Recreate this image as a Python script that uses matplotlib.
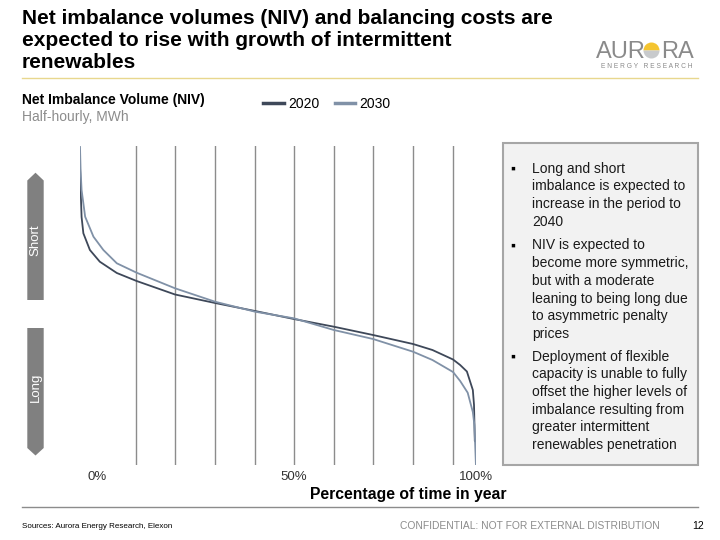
#!/usr/bin/env python3
"""Net imbalance volume duration curves, 2020 vs 2030 (Aurora style slide)."""

import matplotlib

matplotlib.use("Agg")
import matplotlib.pyplot as plt
from matplotlib.patches import Polygon, Rectangle, Wedge

plt.rcParams["font.family"] = ["Liberation Sans", "DejaVu Sans"]

W_PX, H_PX = 720, 540

# duration curves, % of time in year vs half-hourly NIV (MWh, estimated)
NIV_2020_X = [0, 0.2, 0.4, 0.85, 2.5, 5.0, 9.3, 14.3, 24.0, 34.1, 44.2, 54.0,
              64.1, 74.0, 84.1, 89.0, 94.2, 96.0, 97.7, 99.2, 99.5, 99.7, 100]
NIV_2020 = [1490, 1200, 970, 807, 640, 523, 410, 330, 195, 110, 30, -50,
            -127, -210, -300, -360, -455, -510, -575, -760, -910, -1270, -1280]

NIV_2030_X = [0, 0.15, 0.4, 1.3, 3.4, 5.9, 9.3, 14.3, 24.0, 34.1, 44.2, 54.0,
              64.1, 74.0, 84.1, 89.0, 94.2, 96.0, 97.9, 99.2, 99.6, 100]
NIV_2030 = [1670, 1440, 1240, 973, 773, 640, 507, 413, 257, 123, 23, -43,
            -160, -250, -377, -460, -580, -670, -787, -980, -1110, -1527]

COLORS = {"2020": "#3e4859", "2030": "#8091a7"}

GRID_X = [14.2, 24.1, 34.1, 44.2, 54.1, 64.1, 74.0, 84.2, 94.3]
TICK_X = [4.3, 54.0, 100.0]
TICK_LABELS = ["0%", "50%", "100%"]

BULLETS = [
    "Long and short\nimbalance is expected to\nincrease in the period to\n2040",
    "NIV is expected to\nbecome more symmetric,\nbut with a moderate\n"
    "leaning to being long due\nto asymmetric penalty\nprices",
    "Deployment of flexible\ncapacity is unable to fully\noffset the higher levels of\n"
    "imbalance resulting from\ngreater intermittent\nrenewables penetration",
]
BULLET_Y = [169, 246, 357]


def axes_rect(left, top, right, bottom):
    return [left / W_PX, 1 - bottom / H_PX, (right - left) / W_PX, (bottom - top) / H_PX]


def main():
    fig = plt.figure(figsize=(7.2, 5.4), dpi=100)

    # overlay in pixel coordinates for the slide furniture
    bg = fig.add_axes([0, 0, 1, 1], zorder=0)
    bg.set_xlim(0, W_PX)
    bg.set_ylim(H_PX, 0)
    bg.axis("off")

    bg.text(22, 8.5, "Net imbalance volumes (NIV) and balancing costs are\n"
            "expected to rise with growth of intermittent\nrenewables",
            fontsize=15, fontweight="bold", va="top", ha="left", linespacing=1.22)

    # logo (y axis is inverted here, so the upper half runs 180..360 deg)
    bg.text(596, 58, "AUR", fontsize=17, color="#8a8a8a", va="baseline", ha="left")
    bg.text(661, 58, "RA", fontsize=17, color="#8a8a8a", va="baseline", ha="left")
    bg.add_patch(Wedge((651.5, 50.5), 8, 180, 360, facecolor="#f4c430", edgecolor="none"))
    bg.add_patch(Wedge((651.5, 50.5), 8, 0, 180, facecolor="#c8cacc", edgecolor="none"))
    bg.text(647, 63.5, "E N E R G Y   R E S E A R C H", fontsize=4.8, color="#8a8a8a",
            va="top", ha="center")
    bg.plot([22, 698], [78, 78], color="#e8d78e", lw=1)

    bg.text(22, 100, "Net Imbalance Volume (NIV)", fontsize=10, fontweight="bold",
            va="center", ha="left")
    bg.text(22, 117, "Half-hourly, MWh", fontsize=10, color="#8c8c8c",
            va="center", ha="left")

    # short / long arrows
    bg.add_patch(Polygon([(27.3, 300), (27.3, 180.5), (35.5, 172.7), (43.7, 180.5),
                          (43.7, 300)], closed=True, facecolor="#808080", edgecolor="none"))
    bg.text(35.5, 240, "Short", rotation=90, color="white", fontsize=9.5,
            va="center", ha="center")
    bg.add_patch(Polygon([(27.3, 328), (43.7, 328), (43.7, 448), (35.5, 455.5),
                          (27.3, 448)], closed=True, facecolor="#808080", edgecolor="none"))
    bg.text(35.5, 387, "Long", rotation=90, color="white", fontsize=9.5,
            va="center", ha="center")

    # commentary box
    bg.add_patch(Rectangle((502.7, 142.7), 195.6, 322.3, facecolor="#f2f2f2",
                           edgecolor="#a6a6a6", lw=1.5))
    for text, y in zip(BULLETS, BULLET_Y):
        bg.text(510.5, y, "\u25aa", fontsize=10, va="center", ha="left")
        bg.text(532, y - 7.5, text, fontsize=10, color="#1a1a1a", va="top",
                ha="left", linespacing=1.34)

    # footer
    bg.plot([22, 698], [507, 507], color="#8c8c8c", lw=1)
    bg.text(507, 494, "Percentage of time in year", fontsize=11.3, fontweight="bold",
            va="center", ha="right")
    bg.text(22, 527, "Sources: Aurora Energy Research, Elexon", fontsize=5.8,
            va="center", ha="left")
    bg.text(400, 526, "CONFIDENTIAL: NOT FOR EXTERNAL DISTRIBUTION", fontsize=7.4,
            color="#8c8c8c", va="center", ha="left")
    bg.text(698, 526, "12", fontsize=7.5, va="center", ha="center")

    # main chart
    ax = fig.add_axes(axes_rect(80, 146, 476, 465), zorder=1)
    ax.patch.set_alpha(0)
    ax.plot(NIV_2020_X, NIV_2020, color=COLORS["2020"], lw=1.3, label="2020")
    ax.plot(NIV_2030_X, NIV_2030, color=COLORS["2030"], lw=1.3, label="2030")
    ax.set_xlim(0, 100)
    ax.set_ylim(-1510, 1680)
    for s in ax.spines.values():
        s.set_visible(False)
    ax.set_yticks([])
    ax.set_xticks(TICK_X, TICK_LABELS)
    ax.set_xticks(GRID_X, minor=True)
    ax.tick_params(axis="x", which="both", length=0, pad=4, labelsize=9.5,
                   labelcolor="#333333")
    ax.grid(which="minor", axis="x", color="#8c8c8c", lw=1)
    ax.grid(which="major", visible=False)

    leg = ax.legend(loc="center left", bbox_to_anchor=(263 / W_PX, 1 - 104 / H_PX),
                    bbox_transform=fig.transFigure, ncol=2, frameon=False,
                    handlelength=1.5, handletextpad=0.3, columnspacing=1.1,
                    fontsize=10, borderaxespad=0, borderpad=0)
    for line in leg.get_lines():
        line.set_linewidth(2.5)

    fig.savefig("out.png", dpi=100)
    plt.close(fig)


if __name__ == "__main__":
    main()
